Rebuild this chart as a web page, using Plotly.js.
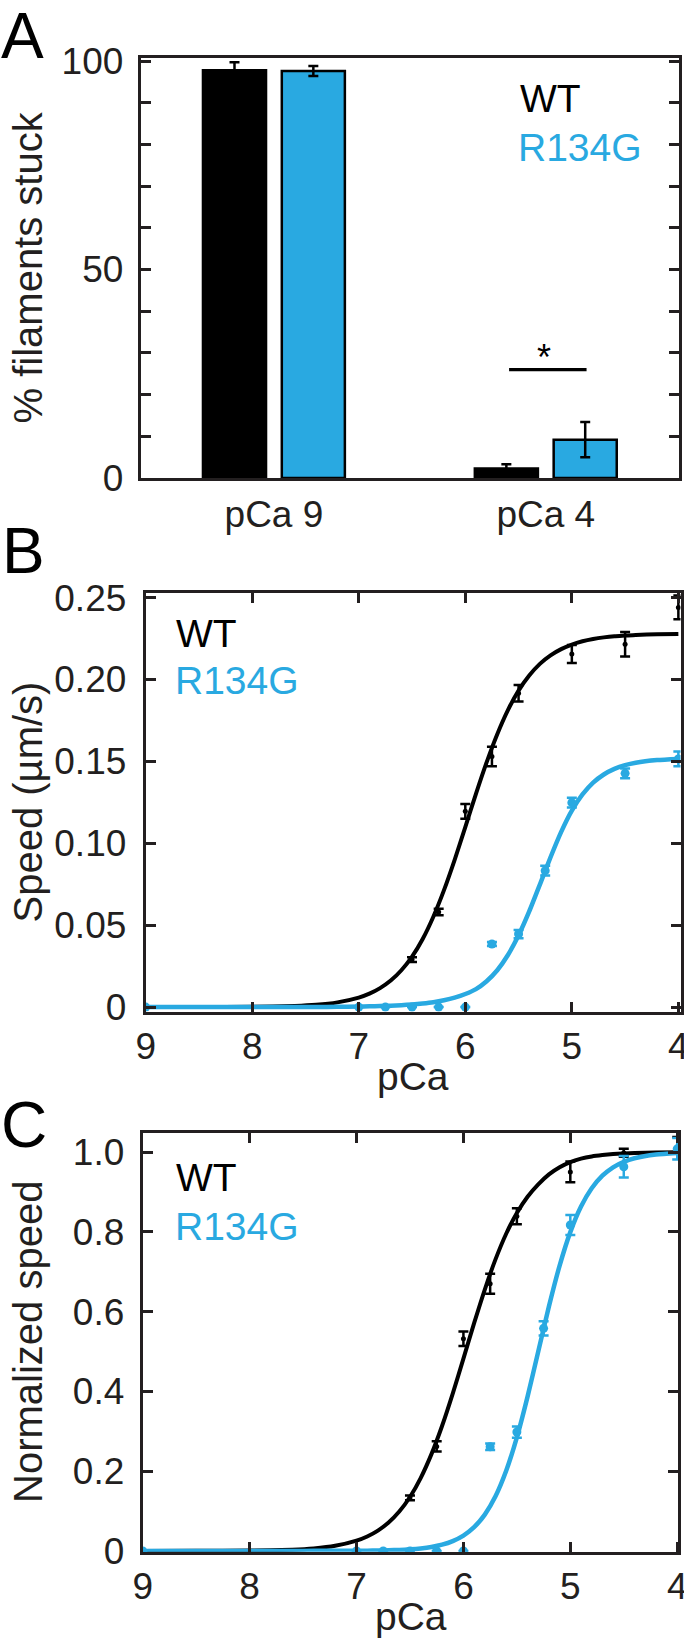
<!DOCTYPE html>
<html>
<head>
<meta charset="utf-8">
<script src="https://cdn.plot.ly/plotly-3.0.1.min.js"></script>
<style>
  html, body { margin: 0; padding: 0; background: #ffffff; }
  #chart { width: 684px; height: 1639px; }
</style>
</head>
<body>
<div id="chart"></div>
<script>
// ---------- Panel A data ----------
const barCategories = ['pCa 9', 'pCa 4'];
const stuckWT = [97.8, 2.3];
const stuckWTErr = [1.9, 1.0];
const stuckR134G = [97.6, 9.2];
const stuckR134GErr = [1.2, 4.2];
const stuckTickVals = [0, 10, 20, 30, 40, 50, 60, 70, 80, 90, 100];
const stuckTickText = ['0', '', '', '', '', '50', '', '', '', '', '100'];

// ---------- Panel B / C measured points ----------
const pCaWT = [9, 6.5, 6.25, 6, 5.75, 5.5, 5, 4.5, 4];
const speedWT = [0, 0.029, 0.058, 0.1195, 0.153, 0.1916, 0.2155, 0.2215, 0.2440];
const speedWTErr = [0, 0.0015, 0.002, 0.0045, 0.006, 0.005, 0.0055, 0.0075, 0.0072];
const normWT = [0, 0.133, 0.262, 0.532, 0.670, 0.839, 0.950, 0.998, 1.068];
const normWTErr = [0, 0.006, 0.013, 0.018, 0.025, 0.020, 0.026, 0.010, 0.030];

const pCaR134G = [9, 7, 6.75, 6.5, 6.25, 6, 5.75, 5.5, 5.25, 5, 4.5, 4];
const speedR134G = [0, 0, 0, 0, 0, 0, 0.0385, 0.0446, 0.0833, 0.1248, 0.1427, 0.1515];
const speedR134GErr = [0, 0, 0, 0, 0, 0, 0.0012, 0.0025, 0.003, 0.003, 0.003, 0.0045];
const normR134G = [0, 0, 0, 0, 0, 0, 0.261, 0.298, 0.558, 0.817, 0.963, 1.008];
const normR134GErr = [0, 0, 0, 0, 0, 0, 0.008, 0.014, 0.018, 0.025, 0.027, 0.027];

// ---------- fitted curves ----------
const fitPCa = [9, 8.5, 8, 7.6, 7.4, 7.2, 7.0, 6.9, 6.8, 6.7, 6.6, 6.5, 6.4, 6.3, 6.2, 6.1, 6.0,
  5.9, 5.8, 5.7, 5.6, 5.5, 5.4, 5.3, 5.2, 5.1, 5.0, 4.9, 4.8, 4.7, 4.6, 4.5, 4.4, 4.2, 4.0];
const fitSpeedWT = [0, 0.0000, 0.0002, 0.0007, 0.0014, 0.0029, 0.0058, 0.0082, 0.0116, 0.0162, 0.0225,
  0.0308, 0.0416, 0.0552, 0.0714, 0.0899, 0.1099, 0.1302, 0.1494, 0.1666, 0.1813, 0.1932, 0.2024,
  0.2095, 0.2147, 0.2185, 0.2213, 0.2233, 0.2247, 0.2257, 0.2264, 0.2268, 0.2272, 0.2276, 0.2278];
const fitSpeedR134G = [0, 0, 0, 0.0001, 0.0001, 0.0002, 0.0004, 0.0005, 0.0007, 0.0009, 0.0012,
  0.0016, 0.0022, 0.0030, 0.0042, 0.0058, 0.0080, 0.0110, 0.0158, 0.0225, 0.0318, 0.0438, 0.0584,
  0.0748, 0.0915, 0.1070, 0.1200, 0.1298, 0.1370, 0.1420, 0.1454, 0.1477, 0.1492, 0.1508, 0.1515];
const fitNormWT = [0, 0.0001, 0.0007, 0.0031, 0.0063, 0.0127, 0.0256, 0.0361, 0.0509, 0.0711, 0.0986,
  0.1351, 0.1826, 0.2420, 0.3132, 0.3945, 0.4821, 0.5709, 0.6553, 0.7309, 0.7952, 0.8472, 0.8879,
  0.9189, 0.9440, 0.9620, 0.9750, 0.9835, 0.9890, 0.9925, 0.9950, 0.9965, 0.9975, 0.9988, 0.9994];
const fitNormR134G = [0, 0, 0, 0.0000, 0.0001, 0.0002, 0.0004, 0.0006, 0.0010, 0.0016, 0.0025,
  0.0040, 0.0063, 0.0099, 0.0156, 0.0245, 0.0383, 0.0594, 0.0909, 0.1368, 0.2008, 0.2847, 0.3869,
  0.5000, 0.6131, 0.7153, 0.7992, 0.8632, 0.9091, 0.9406, 0.9617, 0.9755, 0.9844, 0.9937, 0.9975];

const pCaTickVals = [9, 8, 7, 6, 5, 4];
const pCaTickText = ['9', '8', '7', '6', '5', '4'];
const speedTickVals = [0, 0.05, 0.10, 0.15, 0.20, 0.25];
const speedTickText = ['0', '0.05', '0.10', '0.15', '0.20', '0.25'];
const normTickVals = [0, 0.2, 0.4, 0.6, 0.8, 1.0];
const normTickText = ['0', '0.2', '0.4', '0.6', '0.8', '1.0'];

// ---------- styling ----------
const BLUE = '#29A9E1';
const BLACK = '#000000';
const AXC = '#231f20';
const FONT = 'Arial, "Liberation Sans", Helvetica, sans-serif';
const W = 684, H = 1639;
const px = v => v / W;
const py = v => 1 - v / H;

function errs(arr, color) {
  return { type: 'data', array: arr, visible: true, color: color, thickness: 2.5, width: 5 };
}

const traces = [
  // Panel A
  { type: 'bar', x: barCategories, y: stuckWT, xaxis: 'x', yaxis: 'y',
    marker: { color: BLACK, line: { color: BLACK, width: 2.5 } },
    error_y: { type: 'data', array: stuckWTErr, visible: true, color: BLACK, thickness: 2.5, width: 5 } },
  { type: 'bar', x: barCategories, y: stuckR134G, xaxis: 'x', yaxis: 'y',
    marker: { color: BLUE, line: { color: BLACK, width: 2.5 } },
    error_y: { type: 'data', array: stuckR134GErr, visible: true, color: BLACK, thickness: 2.5, width: 5 } },

  // Panel B
  { type: 'scatter', mode: 'lines', x: fitPCa, y: fitSpeedWT, xaxis: 'x2', yaxis: 'y2',
    line: { color: BLACK, width: 4, shape: 'spline', smoothing: 0.6 } },
  { type: 'scatter', mode: 'markers', x: pCaWT, y: speedWT, xaxis: 'x2', yaxis: 'y2',
    marker: { color: BLACK, size: 5 }, error_y: errs(speedWTErr, BLACK) },
  { type: 'scatter', mode: 'lines', x: fitPCa, y: fitSpeedR134G, xaxis: 'x2', yaxis: 'y2',
    line: { color: BLUE, width: 4.5, shape: 'spline', smoothing: 0.6 } },
  { type: 'scatter', mode: 'markers', x: pCaR134G, y: speedR134G, xaxis: 'x2', yaxis: 'y2',
    marker: { color: BLUE, size: 9 }, error_y: errs(speedR134GErr, BLUE) },

  // Panel C
  { type: 'scatter', mode: 'lines', x: fitPCa, y: fitNormWT, xaxis: 'x3', yaxis: 'y3',
    line: { color: BLACK, width: 4, shape: 'spline', smoothing: 0.6 } },
  { type: 'scatter', mode: 'markers', x: pCaWT, y: normWT, xaxis: 'x3', yaxis: 'y3',
    marker: { color: BLACK, size: 5 }, error_y: errs(normWTErr, BLACK) },
  { type: 'scatter', mode: 'lines', x: fitPCa, y: fitNormR134G, xaxis: 'x3', yaxis: 'y3',
    line: { color: BLUE, width: 4.5, shape: 'spline', smoothing: 0.6 } },
  { type: 'scatter', mode: 'markers', x: pCaR134G, y: normR134G, xaxis: 'x3', yaxis: 'y3',
    marker: { color: BLUE, size: 9 }, error_y: errs(normR134GErr, BLUE) }
];

const tickFont = { family: FONT, size: 37, color: AXC };
const baseAxis = {
  showline: true, linecolor: AXC, linewidth: 3, mirror: 'ticks',
  ticks: 'inside', ticklen: 10, tickwidth: 3, tickcolor: AXC,
  showgrid: false, zeroline: false, tickfont: tickFont, fixedrange: true,
  ticklabeloverflow: 'allow'
};

const layout = {
  width: W, height: H,
  margin: { l: 0, r: 0, t: 0, b: 0, pad: 0 },
  paper_bgcolor: '#ffffff', plot_bgcolor: '#ffffff',
  showlegend: false,
  barmode: 'group', bargap: 0.42, bargroupgap: 0.2,
  font: { family: FONT, color: AXC },

  xaxis: Object.assign({}, baseAxis, {
    domain: [px(140.7), px(679)], anchor: 'y', type: 'category',
    range: [-0.49, 1.49], ticks: '', mirror: true, ticklabelstandoff: 2
  }),
  yaxis: Object.assign({}, baseAxis, {
    domain: [py(478), py(58.3)], anchor: 'x', range: [0, 100.65],
    tickmode: 'array', tickvals: stuckTickVals, ticktext: stuckTickText, ticklabelstandoff: 7
  }),

  xaxis2: Object.assign({}, baseAxis, {
    domain: [px(145.7), px(680.5)], anchor: 'y2', range: [9, 3.98],
    tickmode: 'array', tickvals: pCaTickVals, ticktext: pCaTickText, ticklabelstandoff: 0
  }),
  yaxis2: Object.assign({}, baseAxis, {
    domain: [py(1011.7), py(593.3)], anchor: 'x2', range: [-0.0028, 0.2526],
    tickmode: 'array', tickvals: speedTickVals, ticktext: speedTickText, ticklabelstandoff: 9
  }),

  xaxis3: Object.assign({}, baseAxis, {
    domain: [px(142.7), px(678.3)], anchor: 'y3', range: [9, 3.99],
    tickmode: 'array', tickvals: pCaTickVals, ticktext: pCaTickText, ticklabelstandoff: 0
  }),
  yaxis3: Object.assign({}, baseAxis, {
    domain: [py(1551.7), py(1133.3)], anchor: 'x3', range: [-0.002, 1.047],
    tickmode: 'array', tickvals: normTickVals, ticktext: normTickText, ticklabelstandoff: 8
  }),

  shapes: [
    { type: 'line', xref: 'x', yref: 'y', x0: 0.865, x1: 1.15, y0: 26, y1: 26,
      line: { color: BLACK, width: 3.3 } }
  ],

  annotations: [
    // panel letters
    { text: 'A', xref: 'paper', yref: 'paper', x: px(-1), y: py(36), xanchor: 'left', yanchor: 'middle',
      showarrow: false, font: { family: FONT, size: 64, color: BLACK } },
    { text: 'B', xref: 'paper', yref: 'paper', x: px(0), y: py(551), xanchor: 'left', yanchor: 'middle',
      showarrow: false, font: { family: FONT, size: 64, color: BLACK } },
    { text: 'C', xref: 'paper', yref: 'paper', x: px(-1), y: py(1125), xanchor: 'left', yanchor: 'middle',
      showarrow: false, font: { family: FONT, size: 64, color: BLACK } },

    // y-axis titles
    { text: '% filaments stuck', xref: 'paper', yref: 'paper', x: px(27.5), y: py(268), textangle: -90,
      xanchor: 'center', yanchor: 'middle', showarrow: false, font: { family: FONT, size: 40, color: AXC } },
    { text: 'Speed (µm/s)', xref: 'paper', yref: 'paper', x: px(27.5), y: py(802), textangle: -90,
      xanchor: 'center', yanchor: 'middle', showarrow: false, font: { family: FONT, size: 40, color: AXC } },
    { text: 'Normalized speed', xref: 'paper', yref: 'paper', x: px(27.5), y: py(1342.5), textangle: -90,
      xanchor: 'center', yanchor: 'middle', showarrow: false, font: { family: FONT, size: 40, color: AXC } },

    // x-axis titles
    { text: 'pCa', xref: 'paper', yref: 'paper', x: px(413), y: py(1076), xanchor: 'center', yanchor: 'middle',
      showarrow: false, font: { family: FONT, size: 39, color: AXC } },
    { text: 'pCa', xref: 'paper', yref: 'paper', x: px(410.5), y: py(1616), xanchor: 'center', yanchor: 'middle',
      showarrow: false, font: { family: FONT, size: 39, color: AXC } },

    // legends
    { text: 'WT', xref: 'paper', yref: 'paper', x: px(518), y: py(98.3), xanchor: 'left', yanchor: 'middle',
      showarrow: false, font: { family: FONT, size: 39, color: BLACK } },
    { text: 'R134G', xref: 'paper', yref: 'paper', x: px(516), y: py(147.5), xanchor: 'left', yanchor: 'middle',
      showarrow: false, font: { family: FONT, size: 39, color: BLUE } },
    { text: 'WT', xref: 'paper', yref: 'paper', x: px(174.5), y: py(633.3), xanchor: 'left', yanchor: 'middle',
      showarrow: false, font: { family: FONT, size: 39, color: BLACK } },
    { text: 'R134G', xref: 'paper', yref: 'paper', x: px(173), y: py(680.5), xanchor: 'left', yanchor: 'middle',
      showarrow: false, font: { family: FONT, size: 39, color: BLUE } },
    { text: 'WT', xref: 'paper', yref: 'paper', x: px(174.5), y: py(1177.2), xanchor: 'left', yanchor: 'middle',
      showarrow: false, font: { family: FONT, size: 39, color: BLACK } },
    { text: 'R134G', xref: 'paper', yref: 'paper', x: px(173), y: py(1226), xanchor: 'left', yanchor: 'middle',
      showarrow: false, font: { family: FONT, size: 39, color: BLUE } },

    // significance asterisk
    { text: '*', xref: 'paper', yref: 'paper', x: px(544), y: py(357.5), xanchor: 'center', yanchor: 'middle',
      showarrow: false, font: { family: FONT, size: 36, color: BLACK } }
  ]
};

Plotly.newPlot('chart', traces, layout, { staticPlot: true, displayModeBar: false });
</script>
</body>
</html>
